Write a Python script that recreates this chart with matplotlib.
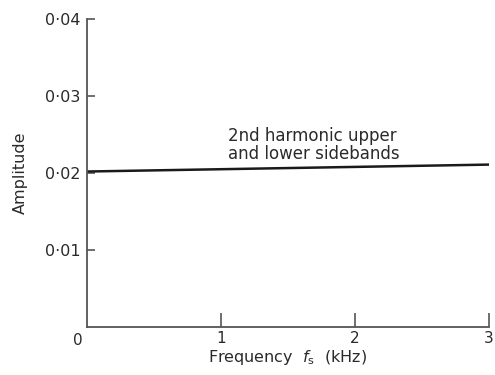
import matplotlib
matplotlib.use("Agg")
import matplotlib.pyplot as plt

# sideband amplitude vs. swept frequency
freq_khz = [0, 3]
amplitude = [0.0202, 0.0211]

y_ticks = [0.01, 0.02, 0.03, 0.04]
y_labels = ["0·01", "0·02", "0·03", "0·04"]
x_ticks = [1, 2, 3]
x_labels = ["1", "2", "3"]

plt.rcParams["font.family"] = ["DejaVu Sans"]
plt.rcParams["mathtext.fontset"] = "dejavusans"
ink = "#2a2a2a"

fig = plt.figure(figsize=(4.95, 3.75), dpi=100)
ax = fig.add_axes([0.176, 0.128, 0.812, 0.821])

ax.plot(freq_khz, amplitude, color="#1a1a1a", linewidth=1.8)

ax.set_xlim(0, 3)
ax.set_ylim(0, 0.04)
ax.spines["top"].set_visible(False)
ax.spines["right"].set_visible(False)
for s in ("left", "bottom"):
    ax.spines[s].set_color("#555555")
    ax.spines[s].set_linewidth(1.3)

ax.set_yticks(y_ticks)
ax.set_yticklabels(y_labels)
ax.set_xticks(x_ticks)
ax.set_xticklabels(x_labels)
ax.tick_params(axis="y", direction="in", length=6, width=1.2, colors="#555555",
               labelcolor=ink, labelsize=11.5, pad=5)
ax.tick_params(axis="x", direction="in", length=10, width=1.2, colors="#555555",
               labelcolor=ink, labelsize=11, pad=3)

# shared origin label
ax.annotate("0", xy=(0, 0), xytext=(-6.5, -10), textcoords="offset points",
            ha="center", va="center", fontsize=11, color=ink,
            annotation_clip=False)

ax.set_xlabel(r"Frequency  $f_\mathrm{s}$  (kHz)", fontsize=11.5, color=ink, labelpad=1)
ax.set_ylabel("Amplitude", fontsize=11.5, color=ink, labelpad=12)

ax.text(1.05, 0.0237, "2nd harmonic upper\nand lower sidebands", fontsize=12,
        color=ink, ha="left", va="center", linespacing=1.0)

fig.savefig("out.png", dpi=100)
